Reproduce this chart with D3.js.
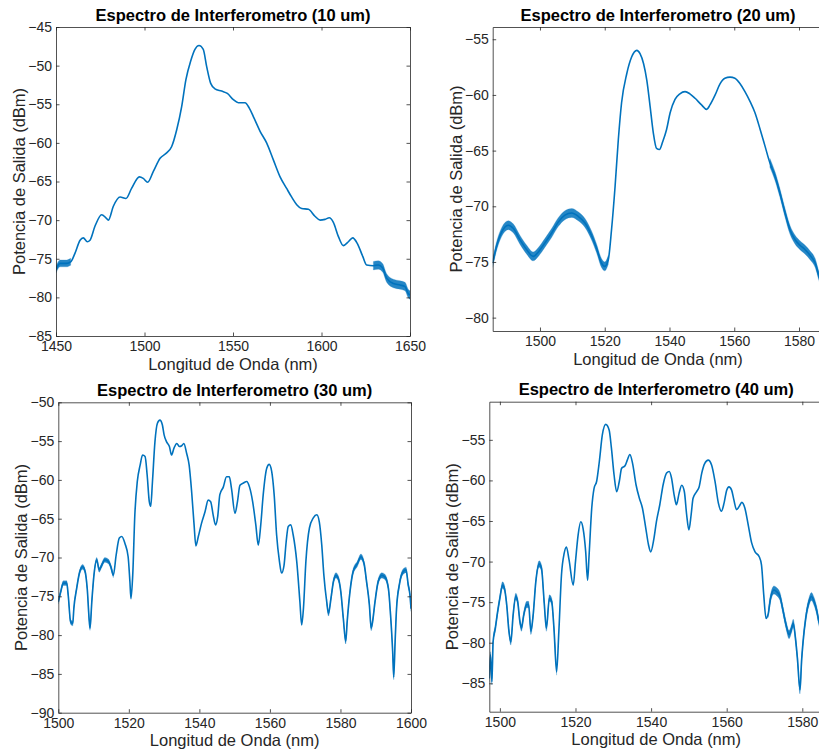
<!DOCTYPE html>
<html>
<head>
<meta charset="utf-8">
<script src="https://d3js.org/d3.v7.min.js"></script>
<style>
body { margin: 0; background: #fff; }
svg text { font-family: "Liberation Sans", Arial, Helvetica, sans-serif; fill: #262626; }
</style>
</head>
<body>
<div id="image"></div>
<script>
// ---- data ----
var titles = ["Espectro de Interferometro (10 um)", "Espectro de Interferometro (20 um)",
              "Espectro de Interferometro (30 um)", "Espectro de Interferometro (40 um)"];
var xLabel = "Longitud de Onda (nm)";
var yLabel = "Potencia de Salida (dBm)";

// 10 um
var wl10 = [1450,1452.3,1456,1458.3,1460.7,1463.6,1465.4,1467.7,1469.2,1472,1475.8,1478.2,1479.6,1482.4,1486.2,1489.5,1492.7,1497.1,1499.3,1501.8,
            1505,1508.8,1512.5,1515.3,1518.2,1521,1523.4,1526.1,1528.5,1530.8,1533.2,1535.1,1537.4,1539.8,1543.6,1546.8,1550.2,1553,1556.8,1559.2,
            1561.9,1565.3,1569,1572.8,1576.6,1580.3,1583.1,1586,1588.8,1592.6,1596.3,1599.2,1602,1604.4,1606.7,1609.5,1612.3,1615.2,1617.6,1620.2,
            1623.3,1625.5,1629.3,1632.1,1634.6,1636.8,1640.6,1644.4,1647.2,1649,1650];
var pw10 = [-76.4,-75.6,-75.6,-75.4,-74.3,-72.6,-72.3,-72.8,-72.6,-70.8,-69.3,-69.7,-70,-68.2,-67,-67.2,-65.9,-64.4,-64.6,-65.1,
            -63.7,-62,-61.3,-60.5,-58.3,-55.3,-51.8,-49.4,-47.9,-47.4,-47.9,-50.1,-52.3,-53,-53.3,-53.6,-54.4,-54.8,-54.8,-55.5,
            -56.8,-58.5,-60,-62.2,-64.4,-65.9,-67,-68,-68.5,-68.6,-69.5,-70,-69.9,-69.7,-70.3,-72.1,-73.3,-72.8,-72.3,-73,
            -74.7,-75.8,-75.9,-75.8,-76.2,-77.5,-78.2,-78.4,-78.6,-79.5,-79.7];
var noise10 = [[1450,1459,0.45],[1626,1650,0.55]];   // [from nm, to nm, half width dB]

// 20 um
var wl20 = [1485.4,1486.4,1488.2,1490.2,1491.8,1493.8,1495.9,1497.9,1499.5,1501.5,1503.6,1505.7,1507.7,1509.8,1511.8,1513.9,1515.9,1517.5,1519,1520,
            1521.1,1522.1,1523.2,1524.2,1525.2,1526.8,1528.3,1529.9,1530.9,1532,1533,1534,1535,1536,1536.9,1537.9,1539.1,1540.2,1541.7,1543.2,
            1544.8,1546.3,1547.9,1549.9,1551.5,1552.5,1554.1,1555.6,1557.1,1558.7,1560.2,1561.8,1563.3,1564.9,1566.4,1568,1569.5,1571,1572.6,1574.1,
            1575.7,1577.2,1578.8,1580.3,1581.9,1583.4,1585,1586.2,1587.5];
var pw20 = [-75.1,-73.8,-72.3,-71.7,-72,-73,-73.9,-74.5,-74.1,-73.3,-72.4,-71.4,-70.8,-70.6,-70.9,-71.5,-72.6,-73.8,-75.1,-75.4,
            -74.8,-72.1,-68.2,-64,-60.7,-58.1,-56.6,-56,-56.3,-57.2,-58.7,-61,-63.4,-64.8,-64.9,-64.2,-63.1,-61.6,-60.4,-59.9,
            -59.7,-59.9,-60.3,-60.9,-61.3,-60.9,-60,-59,-58.5,-58.4,-58.5,-59,-59.7,-60.6,-61.6,-63.1,-64.6,-66.1,-67.3,-68.8,
            -70.6,-72.1,-73,-73.5,-73.9,-74.4,-75.1,-76.3,-77.2];
var noise20 = [[1485.4,1522,0.4],[1570,1587.5,0.4]];

// 30 um
var wl30 = [1500,1500.7,1501.4,1502.4,1502.8,1503.5,1504.1,1504.4,1505.2,1506.1,1506.9,1507.6,1508.2,1508.8,1509,1509.5,1510.1,1510.9,1511.6,1512.3,
            1513.2,1514.2,1514.9,1515.6,1516.4,1517.3,1518,1518.9,1519.8,1520.3,1520.6,1521.1,1521.7,1522.4,1523.2,1523.9,1524.6,1525.2,1525.8,1526.2,
            1526.7,1527.4,1528.1,1528.8,1529.5,1530,1530.7,1531.5,1532.1,1532.8,1533.6,1534.3,1535,1535.6,1536.4,1537.1,1537.8,1538.5,1539,1539.7,
            1540.6,1541.6,1542.5,1543.2,1543.9,1544.6,1545.2,1545.8,1546.8,1547.7,1548.5,1549.1,1550.1,1550.8,1551.5,1552.5,1553.4,1554.2,1555.1,1556,
            1556.7,1557.4,1558.1,1559.1,1559.8,1560.5,1561.2,1561.9,1562.7,1563.3,1564,1564.6,1565.2,1565.9,1566.6,1567.6,1568.5,1569,1569.5,1570.2,
            1571.2,1572.3,1573.3,1574,1574.7,1575.3,1576.1,1576.6,1577.3,1578,1578.7,1579.4,1580.1,1580.8,1581.5,1581.9,1582.7,1583.6,1584.8,1585.8,
            1586.7,1587.4,1588.2,1588.7,1589.1,1589.8,1590.7,1591.7,1592.6,1593.6,1594.2,1594.8,1595.1,1595.5,1595.9,1596.7,1597.8,1598.6,1599.2,1599.7,1600];
var pw30 = [-75.7,-74.4,-73.3,-73.3,-74.8,-78.3,-78.5,-76.6,-74,-71.8,-71.2,-71.8,-74,-78.3,-79.1,-75.7,-72.3,-70.3,-71.6,-71,
            -70.3,-70.5,-71.2,-72.3,-69.7,-67.5,-67.3,-68.2,-69.9,-73.1,-75.3,-72.3,-64.5,-60.2,-58.1,-56.8,-57,-59.4,-62.8,-63.4,
            -60.2,-55.1,-52.7,-52.3,-52.9,-54.2,-55.1,-55.7,-56.8,-55.9,-55.3,-55.7,-55.6,-55.3,-56.6,-58.1,-61.5,-65.8,-68.5,-67.3,
            -65.6,-64.1,-62.6,-62.8,-64.5,-65.8,-64.7,-61.9,-60.9,-59.6,-59.6,-61.1,-64.3,-62.8,-60.7,-60.4,-60.2,-60.9,-62.8,-65.8,
            -68.4,-65.8,-61.9,-58.5,-58,-58.9,-61.9,-67.1,-70.5,-72,-71,-68,-66,-65.8,-67.1,-70.5,-75.7,-78.7,-76.6,-70.5,
            -66.2,-64.9,-64.5,-65.4,-68.4,-72.3,-75.7,-77.2,-75.3,-73.1,-72.3,-72.7,-74.4,-77.8,-80.8,-78.3,-74.4,-71.8,-70.8,-69.9,
            -70.8,-73.1,-76.1,-79.1,-78.3,-75.7,-73.1,-72.3,-72.5,-74,-77.4,-82.1,-85.4,-80.8,-76.6,-73.5,-71.8,-71.6,-73.5,-74.8,-76.6];
var noise30 = [[1500,1516,0.3],[1576,1600,0.35]];

// 40 um
var wl40 = [1497.2,1497.5,1497.9,1498.2,1498.8,1499.4,1500,1500.7,1501.2,1501.8,1502.4,1502.9,1503.5,1504.2,1504.7,1505.3,1505.7,1506.3,1507.1,1507.6,
            1508.2,1508.8,1509.5,1510.4,1511,1511.7,1512.3,1513.1,1513.7,1514.3,1515,1515.6,1516.3,1517,1517.6,1518.3,1519.4,1520,1520.7,1521.4,
            1522,1522.7,1523.2,1523.6,1524.3,1524.9,1525.6,1526.3,1527.1,1528,1528.9,1529.5,1530.2,1530.9,1531.6,1532.2,1533.1,1533.7,1534.4,1535.1,
            1536,1536.9,1537.7,1538.6,1539.3,1539.9,1540.7,1541.4,1542.3,1543.2,1544.1,1544.8,1545.4,1546.1,1546.7,1547.4,1548.1,1548.8,1549.4,1550,
            1550.6,1551.1,1552,1552.7,1553.4,1554.2,1555.1,1556,1556.9,1557.8,1558.6,1559.3,1560,1560.6,1561.3,1561.9,1562.6,1563.3,1564,1564.8,
            1565.7,1566.6,1567.5,1568.6,1569.2,1569.8,1570.4,1571,1571.6,1572.5,1573.2,1574.1,1574.8,1575.7,1576.5,1577.2,1577.6,1578.2,1578.7,1579.4,
            1579.8,1580.2,1580.9,1581.8,1582.4,1583.1,1583.8,1584.4,1585.5];
var pw40 = [-84.4,-81.5,-84.8,-79.9,-78.2,-76.2,-74.5,-72.9,-73.3,-75.3,-78.6,-79.9,-76.6,-74.3,-74.9,-77.4,-78.2,-76.6,-75.3,-75.3,
            -78.6,-76.6,-72.5,-70.3,-70.8,-74.9,-78.2,-74.5,-74.9,-78.2,-83.6,-78.6,-71.6,-69,-68.2,-69.8,-72.9,-70,-66.7,-65.1,
            -65.9,-68.8,-72.3,-69.2,-63.4,-61,-60.1,-57.7,-54.4,-53.1,-53.8,-56,-59.3,-61.4,-60.1,-58.5,-58.2,-57.5,-56.8,-57.9,
            -60.5,-62.2,-63.4,-65.9,-67.9,-68.8,-67.3,-65.1,-63,-60.5,-59.1,-58.9,-59.7,-61.8,-63,-61.6,-60.6,-61.4,-64.2,-66.1,
            -64.2,-62.2,-61.4,-60.8,-59.1,-57.9,-57.5,-58.1,-60.1,-62.8,-63.8,-62.8,-61.2,-60.8,-61.2,-62.4,-63.6,-63.2,-62.7,-63.4,
            -65.5,-67.7,-68.8,-69.4,-70.4,-74.1,-77,-76.4,-74.5,-73.5,-73.7,-74.3,-75.8,-77.8,-79,-78.2,-77.6,-79.5,-81.9,-85.8,
            -82.3,-79.9,-77,-74.9,-74.3,-74.9,-76,-77.4,-78.2];
var noise40 = [[1497.2,1515,0.4],[1570.5,1585.5,0.5]];

// axis domains and ticks
var xDomain10 = [1450, 1650], yDomain10 = [-85, -45];
var xDomain20 = [1485.4, 1587.5], yDomain20 = [-81.2, -53.9];
var xDomain30 = [1500, 1600], yDomain30 = [-90, -50];
var xDomain40 = [1497.2, 1585.5], yDomain40 = [-88.5, -50.3];
var xTicks10 = [1450, 1500, 1550, 1600, 1650], yTicks10 = [-85, -80, -75, -70, -65, -60, -55, -50, -45];
var xTicks20 = [1500, 1520, 1540, 1560, 1580], yTicks20 = [-80, -75, -70, -65, -60, -55];
var xTicks30 = [1500, 1520, 1540, 1560, 1580, 1600], yTicks30 = [-90, -85, -80, -75, -70, -65, -60, -55, -50];
var xTicks40 = [1500, 1520, 1540, 1560, 1580], yTicks40 = [-85, -80, -75, -70, -65, -60, -55];

// ---- layout (pixels) ----
var boxes = [
    {left: 56,    right: 410,   top: 27,    bottom: 336},
    {left: 492.7, right: 823.3, top: 27,    bottom: 331},
    {left: 58.3,  right: 411,   top: 402.3, bottom: 712.7},
    {left: 489.3, right: 823.1, top: 401.7, bottom: 711.7}
];
var lineColor = "#0072BD";
var axisColor = "#262626";
var tickLen = 3.5;

var svg = d3.select("#image").append("svg")
    .attr("width", 819)
    .attr("height", 751);

var panels = [
    {wl: wl10, pw: pw10, noise: noise10, xd: xDomain10, yd: yDomain10, xt: xTicks10, yt: yTicks10},
    {wl: wl20, pw: pw20, noise: noise20, xd: xDomain20, yd: yDomain20, xt: xTicks20, yt: yTicks20},
    {wl: wl30, pw: pw30, noise: noise30, xd: xDomain30, yd: yDomain30, xt: xTicks30, yt: yTicks30},
    {wl: wl40, pw: pw40, noise: noise40, xd: xDomain40, yd: yDomain40, xt: xTicks40, yt: yTicks40}
];

for (var i = 0; i < panels.length; i++) {
    draw(panels[i], boxes[i], titles[i], i);
}

function noiseAt(noise, w) {
    for (var k = 0; k < noise.length; k++) {
        if (w >= noise[k][0] && w <= noise[k][1]) return noise[k][2];
    }
    return 0;
}

function draw(p, b, title, idx) {
    var w = b.right - b.left, h = b.bottom - b.top;
    var x = d3.scaleLinear().domain(p.xd).range([0, w]);
    var y = d3.scaleLinear().domain(p.yd).range([h, 0]);

    var g = svg.append("g")
        .attr("transform", "translate(" + b.left + "," + b.top + ")");

    svg.append("clipPath").attr("id", "clip" + idx)
        .append("rect").attr("width", w).attr("height", h);

    var pts = p.wl.map(function(d, j) { return {w: d, v: p.pw[j]}; });

    var plot = g.append("g").attr("clip-path", "url(#clip" + idx + ")");

    // fuzzy band where the trace is noisy
    var band = d3.area()
        .defined(function(d) { return noiseAt(p.noise, d.w) > 0; })
        .x(function(d) { return x(d.w); })
        .y0(function(d) { return y(d.v - noiseAt(p.noise, d.w)); })
        .y1(function(d) { return y(d.v + noiseAt(p.noise, d.w)); })
        .curve(d3.curveMonotoneX);
    plot.append("path").datum(pts)
        .attr("d", band)
        .attr("fill", lineColor)
        .attr("stroke", lineColor)
        .attr("stroke-width", 0.6)
        .attr("stroke-opacity", 0.4)
        .attr("opacity", 0.85);

    var line = d3.line()
        .x(function(d) { return x(d.w); })
        .y(function(d) { return y(d.v); })
        .curve(d3.curveMonotoneX);
    plot.append("path").datum(pts)
        .attr("d", line)
        .attr("fill", "none")
        .attr("stroke", lineColor)
        .attr("stroke-width", 1.6)
        .attr("stroke-linejoin", "round");

    // axes, ticks pointing inward on all four sides
    var ax = g.append("g")
        .attr("transform", "translate(0," + h + ")")
        .call(d3.axisBottom(x).tickValues(p.xt).tickFormat(d3.format("d"))
            .tickSizeInner(-tickLen).tickSizeOuter(0).tickPadding(5.5));
    var ay = g.append("g")
        .call(d3.axisLeft(y).tickValues(p.yt).tickFormat(d3.format("d"))
            .tickSizeInner(-tickLen).tickSizeOuter(0).tickPadding(4));
    var at = g.append("g")
        .call(d3.axisTop(x).tickValues(p.xt).tickFormat("")
            .tickSizeInner(-tickLen).tickSizeOuter(0));
    var ar = g.append("g")
        .attr("transform", "translate(" + w + ",0)")
        .call(d3.axisRight(y).tickValues(p.yt).tickFormat("")
            .tickSizeInner(-tickLen).tickSizeOuter(0));

    [ax, ay, at, ar].forEach(function(a) {
        a.selectAll("path, line").attr("stroke", axisColor).attr("stroke-width", 0.8);
        a.selectAll("text")
            .attr("fill", axisColor)
            .style("font-size", "14px")
            .style("font-family", "'Liberation Sans', Arial, sans-serif");
    });

    // title
    g.append("text")
        .attr("x", w / 2)
        .attr("y", -6.5)
        .style("text-anchor", "middle")
        .style("font-size", "16.5px")
        .style("font-weight", "bold")
        .style("fill", "#000")
        .text(title);

    // x label
    g.append("text")
        .attr("x", w / 2)
        .attr("y", h + 33.5)
        .style("text-anchor", "middle")
        .style("font-size", "16.5px")
        .text(xLabel);

    // y label
    g.append("text")
        .attr("transform", "rotate(-90)")
        .attr("x", -h / 2)
        .attr("y", -31)
        .style("text-anchor", "middle")
        .style("font-size", "16.5px")
        .text(yLabel);
}
</script>
</body>
</html>
